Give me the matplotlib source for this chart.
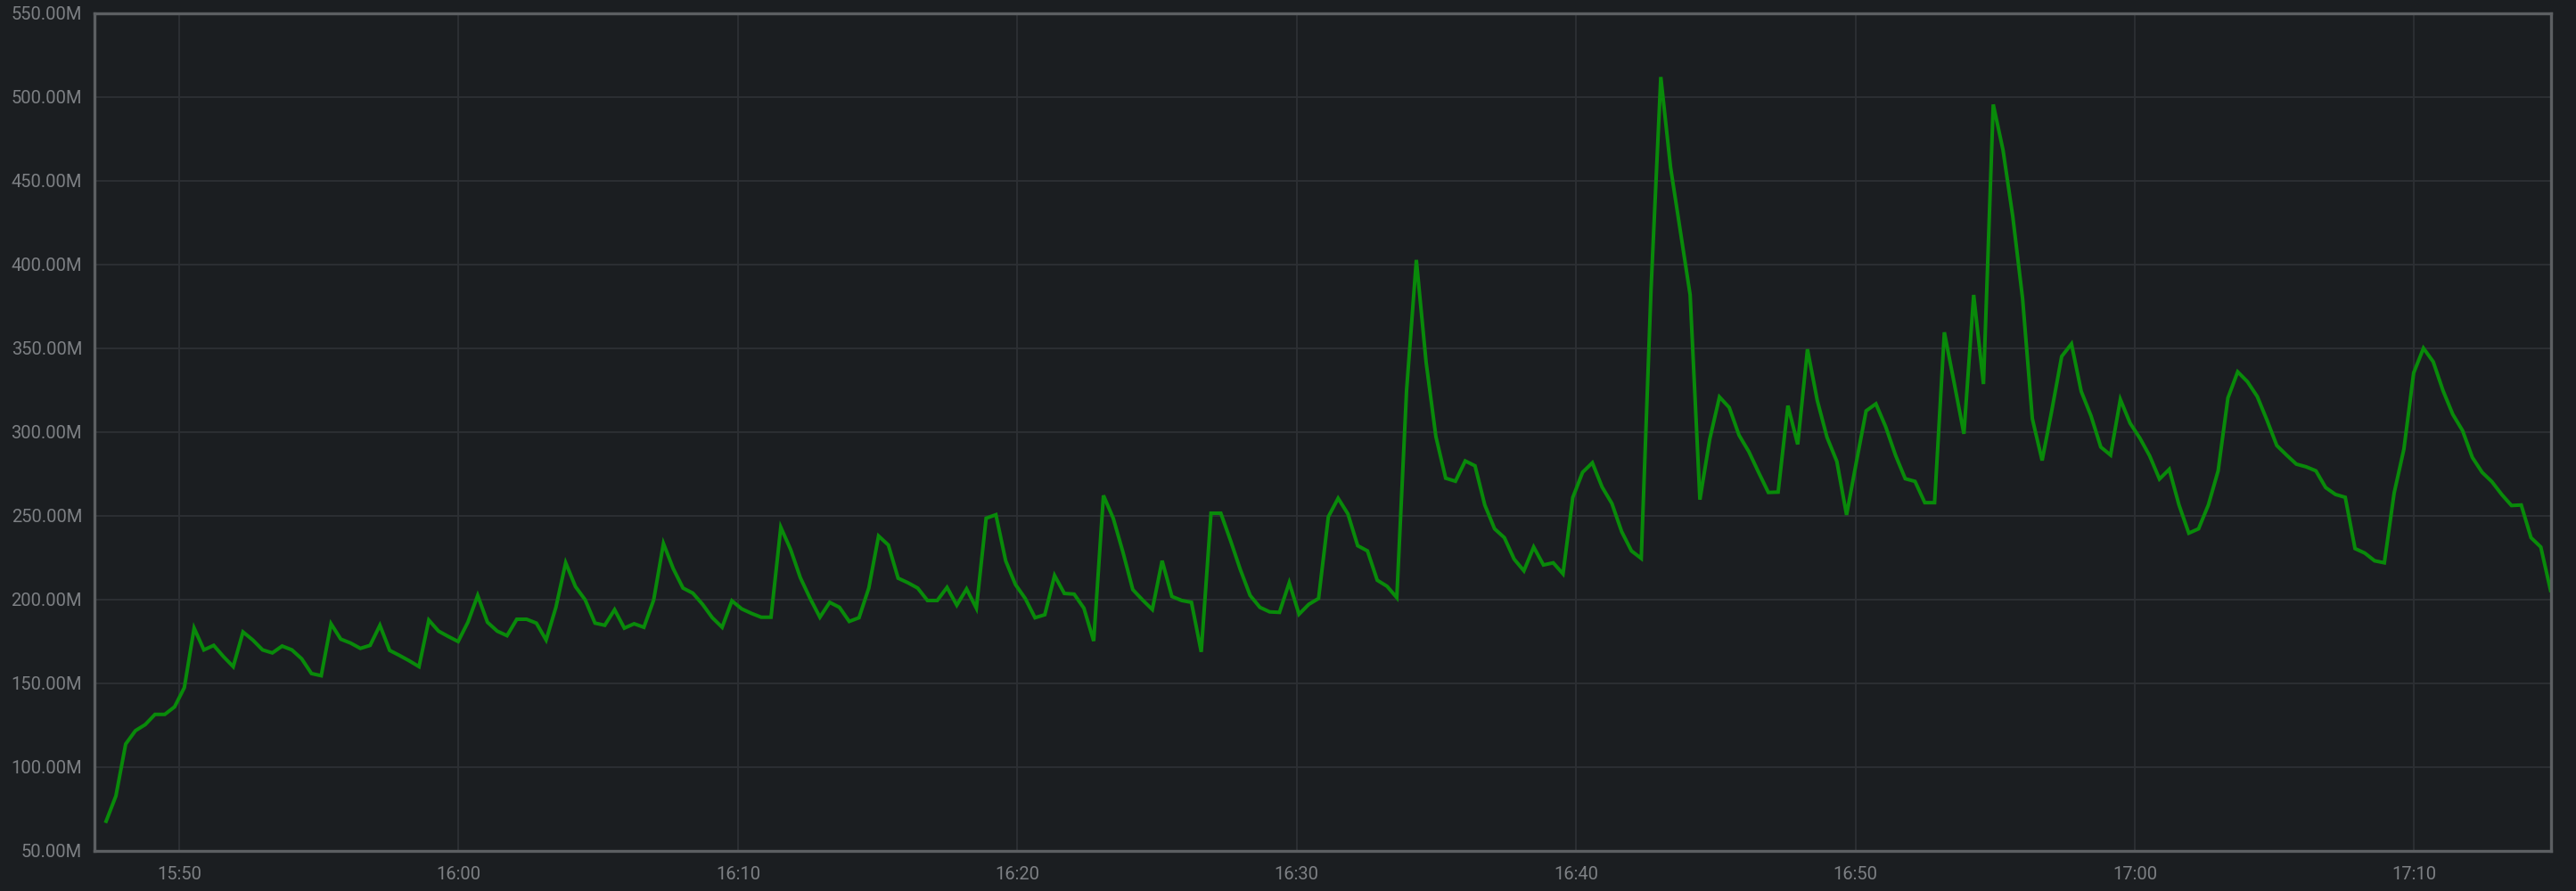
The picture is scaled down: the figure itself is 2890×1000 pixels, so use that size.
import matplotlib
matplotlib.use("Agg")
import matplotlib.pyplot as plt
import matplotlib.dates as mdates
import matplotlib.ticker as mticker
import pandas as pd

# ---- data (values in millions) ----
start_time = "2023-01-01 15:47:23"
step = "21s"
values_m = [
    67.7, 82.8, 113.8, 121.8, 125.4, 131.5, 131.5, 136.0, 147.5, 183.0,
    170.0, 172.7, 166.0, 160.0, 180.7, 175.9, 170.0, 168.2, 172.3, 170.0,
    164.7, 155.9, 154.6, 185.6, 176.4, 174.1, 170.9, 172.7, 184.7, 169.7,
    166.7, 163.5, 160.0, 187.8, 181.2, 178.0, 175.0, 186.5, 202.5, 186.5,
    181.2, 178.5, 188.3, 188.3, 186.0, 175.9, 195.4, 222.0, 207.8, 199.8,
    186.0, 184.7, 194.0, 183.0, 185.6, 183.5, 199.8, 233.5, 218.5, 206.9,
    203.9, 197.2, 189.2, 183.5, 199.3, 194.5, 191.8, 189.5, 189.5, 243.2,
    230.0, 213.1, 200.7, 189.5, 198.4, 195.4, 187.0, 189.2, 206.9, 238.0,
    232.6, 212.8, 210.1, 206.9, 199.5, 199.5, 207.3, 196.7, 206.4, 194.9,
    248.6, 250.7, 223.2, 209.0, 200.7, 189.2, 191.0, 214.4, 203.7, 203.3,
    194.9, 175.3, 262.2, 248.6, 228.2, 206.0, 199.8, 194.1, 223.2, 201.9,
    199.5, 198.4, 168.8, 251.6, 251.6, 235.2, 217.9, 202.5, 195.4, 192.7,
    192.4, 210.1, 191.3, 197.2, 200.7, 249.5, 260.5, 251.2, 232.2, 229.1,
    211.6, 208.0, 201.2, 325.0, 402.8, 341.6, 297.3, 272.5, 270.7, 282.8,
    279.9, 256.5, 242.3, 237.0, 224.2, 217.2, 231.4, 220.7, 222.0, 215.4,
    261.0, 276.0, 281.7, 267.2, 257.4, 240.6, 229.1, 224.6, 385.0, 512.0,
    458.0, 420.0, 382.0, 259.7, 295.6, 321.0, 314.7, 298.2, 288.4, 276.0,
    264.0, 264.2, 315.8, 292.7, 349.5, 319.0, 296.9, 282.6, 250.6, 282.1,
    312.7, 316.9, 303.2, 286.3, 272.2, 270.6, 257.9, 257.9, 359.6, 329.5,
    299.0, 381.9, 328.7, 495.6, 468.4, 428.6, 379.8, 308.0, 283.1, 313.3,
    345.2, 352.7, 324.3, 309.7, 291.1, 286.3, 319.5, 305.3, 296.4, 285.8,
    272.0, 277.8, 256.5, 239.7, 242.3, 256.5, 276.9, 320.4, 336.0, 330.1,
    321.3, 307.1, 292.0, 286.3, 280.9, 279.3, 276.9, 266.9, 262.8, 261.1,
    230.5, 227.8, 223.2, 222.0, 263.6, 289.9, 335.4, 350.1, 342.0, 324.8,
    310.6, 300.9, 284.9, 276.0, 270.4, 262.8, 256.2, 256.5, 237.0, 231.4,
    205.5,
]
x_min = "2023-01-01 15:46:58"
x_max = "2023-01-01 17:14:54"
y_min, y_max = 50, 550
y_ticks = [50, 100, 150, 200, 250, 300, 350, 400, 450, 500, 550]

times = pd.date_range(start=start_time, periods=len(values_m), freq=step)

# ---- style ----
BG = "#1b1e21"
GRID = "#2d3034"
FRAME = "#5c5f62"
TEXT = "#7d8084"
LINE = "#098a0a"

plt.rcParams["font.family"] = ["Roboto", "DejaVu Sans"]

fig = plt.figure(figsize=(28.9, 10.0), dpi=100, facecolor=BG)
ax = fig.add_axes([106 / 2890, 1 - 955 / 1000, (2862 - 106) / 2890, (955 - 15) / 1000])
ax.set_facecolor(BG)

ax.plot(times, values_m, color=LINE, lw=2.9, solid_joinstyle="miter", zorder=3)

ax.set_xlim(pd.Timestamp(x_min), pd.Timestamp(x_max))
ax.set_ylim(y_min, y_max)
ax.set_yticks(y_ticks)
ax.yaxis.set_major_formatter(mticker.FuncFormatter(lambda v, p: f"{v:.2f}M"))
ax.xaxis.set_major_locator(mdates.MinuteLocator(byminute=[0, 10, 20, 30, 40, 50]))
ax.xaxis.set_major_formatter(mdates.DateFormatter("%H:%M"))

ax.grid(True, color=GRID, lw=1.3, zorder=0)
ax.set_axisbelow(True)
ax.tick_params(axis="both", length=0, colors=TEXT, labelsize=14.5)
ax.tick_params(axis="y", pad=10)
ax.tick_params(axis="x", pad=12)
for s in ax.spines.values():
    s.set_color(FRAME)
    s.set_linewidth(2.4)
    s.set_zorder(4)

fig.savefig("out.png", dpi=100, facecolor=BG)
